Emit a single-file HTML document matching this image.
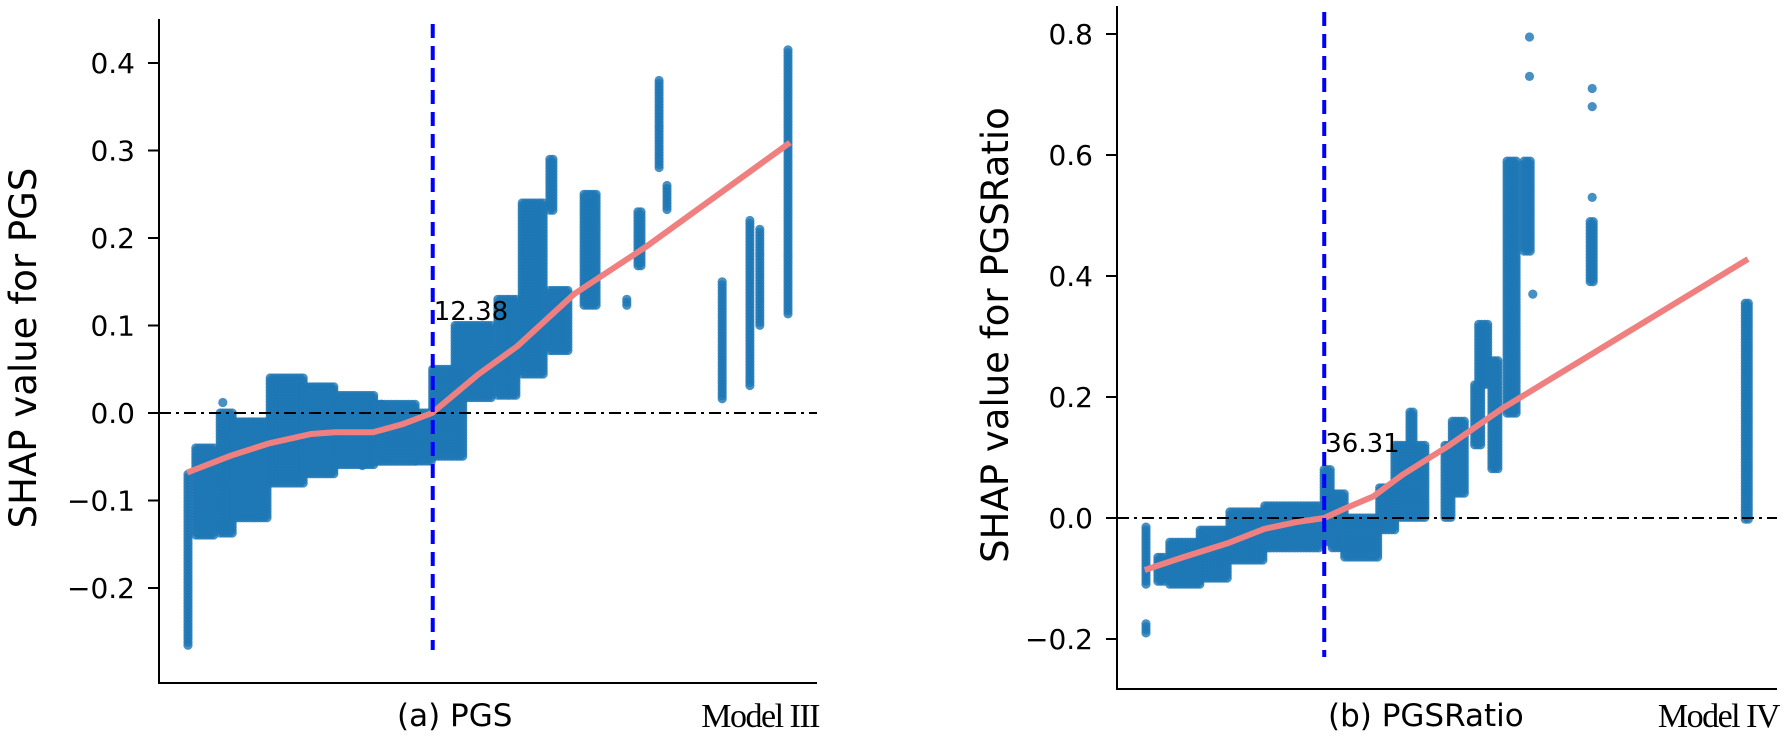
<!DOCTYPE html>
<html><head><meta charset="utf-8"><style>
html,body{margin:0;padding:0;background:#fff;}
svg{display:block;font-family:"DejaVu Sans","Liberation Sans",sans-serif;}
</style></head><body>
<svg id="chart" width="1784" height="744" viewBox="0 0 1784 744" xmlns="http://www.w3.org/2000/svg">
  <g id="panelA"></g>
  <g id="panelB"></g>
</svg>
<script>
// ---------- Panel A data (PGS, Model III) ----------
const aTicks = [0.4, 0.3, 0.2, 0.1, 0.0, -0.1, -0.2];
const aTickLabels = ["0.4", "0.3", "0.2", "0.1", "0.0", "\u22120.1", "\u22120.2"];
// bands: [xStart, xEnd, shapLow, shapHigh]
const aBandX0 = [4.4,5.6,9.3,11.4,16.9,22,26.7,33,39.1,41.6,45,51.5,55.2,59.4,59.4,64.6,71.1,72.8,76.0,77.2,85.6,89.8,91.3,95.6];
const aBandX1 = [4.8,8.5,11.4,16.6,22,26.7,33,39.1,41.6,46.4,50.8,54.4,58.7,60.2,62.5,66.7,71.1,73.4,76.0,77.2,85.6,89.8,91.3,95.6];
const aBandLo = [-0.268,-0.14,-0.14,-0.12,-0.08,-0.07,-0.06,-0.057,-0.055,-0.05,0.016,0.02,0.043,0.23,0.07,0.12,0.12,0.167,0.28,0.23,0.015,0.03,0.1,0.11];
const aBandHi = [-0.07,-0.04,0.0,-0.01,0.04,0.03,0.02,0.01,0.0,0.05,0.1,0.13,0.24,0.29,0.14,0.25,0.13,0.23,0.38,0.26,0.15,0.22,0.21,0.415];
const aSingleX = [9.7, 30.9, 33.8];
const aSingleY = [0.012, -0.06, 0.01];
const aTrendX = [4.3,10.8,16.6,23.1,26.7,32.5,36.9,41.5,45,48.5,54.4,63.1,74,95.9];
const aTrendY = [-0.068,-0.049,-0.035,-0.024,-0.022,-0.022,-0.013,0,0.022,0.044,0.076,0.136,0.19,0.309];
const aThreshold = 41.6;
const aThresholdLabel = "12.38";

// ---------- Panel B data (PGSRatio, Model IV) ----------
const bTicks = [0.8, 0.6, 0.4, 0.2, 0.0, -0.2];
const bTickLabels = ["0.8", "0.6", "0.4", "0.2", "0.0", "\u22120.2"];
const bBandX0 = [4.4,4.4,6.2,8.0,12.6,17.1,22.4,31.4,32.6,34.5,39.8,42.1,44.4,49.7,50.8,54.2,54.8,56.8,59.1,61.7,71.7,95.2];
const bBandX1 = [4.8,4.8,7.3,12.6,17.1,22.4,30.8,32.6,34.5,39.8,42.1,46.7,45.2,50.8,52.7,55.3,56.2,58.0,60.6,62.9,72.3,95.9];
const bBandLo = [-0.11,-0.19,-0.105,-0.11,-0.10,-0.07,-0.05,-0.04,-0.05,-0.065,-0.02,0.0,0.1,0.0,0.04,0.12,0.22,0.08,0.17,0.44,0.39,-0.005];
const bBandHi = [-0.015,-0.175,-0.065,-0.04,-0.02,0.01,0.02,0.08,0.04,0.0,0.05,0.12,0.175,0.12,0.16,0.22,0.32,0.26,0.59,0.59,0.49,0.355];
const bSingleX = [62.5, 62.5, 63, 72, 72, 72];
const bSingleY = [0.795, 0.73, 0.37, 0.53, 0.68, 0.71];
const bTrendX = [4.2,9.7,16.7,22.3,27.1,31.4,34.8,38.9,43.2,50.2,58.5,95.6];
const bTrendY = [-0.086,-0.066,-0.042,-0.018,-0.007,0,0.017,0.036,0.071,0.119,0.182,0.428];
const bThreshold = 31.4;
const bThresholdLabel = "36.31";

const NS = "http://www.w3.org/2000/svg";
function mk(parent, tag, attrs, text){
  const e = document.createElementNS(NS, tag);
  for (const k in attrs) e.setAttribute(k, attrs[k]);
  if (text !== undefined) e.textContent = text;
  parent.appendChild(e);
  return e;
}

function drawPanel(g, cfg){
  const sx = u => cfg.x0 + (u/100)*(cfg.x1 - cfg.x0);
  const sy = v => cfg.zeroY - v*cfg.pxPerUnit;

  const pts = mk(g, "g", {fill:"#1f77b4","fill-opacity":"0.82"});
  
  
  for (let i=0;i<cfg.bx0.length;i++){
    const px0 = sx(cfg.bx0[i]), px1 = sx(cfg.bx1[i]);
    const pyTop = sy(cfg.bhi[i]), pyBot = sy(cfg.blo[i]);
    for (let x=px0; x<=px1+0.01; x+=3){
      for (let y=pyTop; y<=pyBot+0.01; y+=3){
        mk(pts, "circle", {cx:x.toFixed(1), cy:y.toFixed(1), r:4.6});
      }
      if (pyBot-pyTop < 3) mk(pts,"circle",{cx:x.toFixed(1),cy:pyBot.toFixed(1),r:4.6});
    }
  }
  for (let i=0;i<cfg.sxs.length;i++){
    const c = mk(pts, "circle", {cx:sx(cfg.sxs[i]), cy:sy(cfg.sys[i]), r:4.6});
    
    
  }

  const zl = mk(g, "line", {x1:cfg.x0, x2:cfg.x1, y1:sy(0), y2:sy(0), stroke:"#000","stroke-width":2,"stroke-dasharray":"12,5,3,5"});
  
  

  let d = "";
  for (let i=0;i<cfg.tx.length;i++) d += (i?"L":"M") + sx(cfg.tx[i]).toFixed(1) + "," + sy(cfg.ty[i]).toFixed(1);
  const tl = mk(g, "path", {d:d, fill:"none", stroke:"#f08080","stroke-width":6,"stroke-linejoin":"round","stroke-linecap":"butt"});
  
  

  const th = mk(g, "line", {x1:sx(cfg.thr), x2:sx(cfg.thr), y1:cfg.thrTop, y2:cfg.thrBot, stroke:"#0000ff","stroke-width":4,"stroke-dasharray":"14,8"});
  
  
  const tt = mk(g, "text", {x:sx(cfg.thr)+1, y:cfg.thrLabelY, "font-size":26, fill:"#000"}, cfg.thrLabel);
  
  

  const ya = mk(g, "line", {x1:cfg.x0, x2:cfg.x0, y1:cfg.axTop, y2:cfg.axBot+1, stroke:"#000","stroke-width":2});
  
  
  const xa = mk(g, "line", {x1:cfg.x0-1, x2:cfg.x1, y1:cfg.axBot, y2:cfg.axBot, stroke:"#000","stroke-width":2});
  
  

  for (let i=0;i<cfg.ticks.length;i++){
    const y = sy(cfg.ticks[i]);
    const tk = mk(g, "line", {x1:cfg.x0-11, x2:cfg.x0, y1:y, y2:y, stroke:"#000","stroke-width":2});
    
    
    const lb = mk(g, "text", {x:cfg.x0-24, y:y+10, "font-size":28, "text-anchor":"end", fill:"#000"}, cfg.tickLabels[i]);
    
    
  }

  const yt = mk(g, "text", {x:0, y:0, "font-size":37, "text-anchor":"middle", fill:"#000", transform:"translate("+cfg.yTitleX+","+cfg.yTitleY+") rotate(-90)"}, cfg.yTitle);
  
  
  const xt = mk(g, "text", {x:cfg.xTitleX, y:726, "font-size":31, fill:"#000"}, cfg.xTitle);
  
  
  const mt = mk(g, "text", {x:cfg.x1+2, y:727, "font-size":34, "text-anchor":"end", "letter-spacing":"-1.5", fill:"#000", "font-family":"'Liberation Serif', serif"}, cfg.model);
  
  
}

drawPanel(document.getElementById("panelA"), {
  x0:159, x1:817, zeroY:413, pxPerUnit:875, axTop:19, axBot:683,
  ticks:aTicks, tickLabels:aTickLabels,
  bx0:aBandX0, bx1:aBandX1, blo:aBandLo, bhi:aBandHi,
  sxs:aSingleX, sys:aSingleY, tx:aTrendX, ty:aTrendY,
  thr:aThreshold, thrTop:24, thrBot:650, thrLabel:aThresholdLabel, thrLabelY:320,
  yTitle:"SHAP value for PGS", yTitleX:36, yTitleY:348,
  xTitle:"(a) PGS", xTitleX:397, model:"Model III"
});
drawPanel(document.getElementById("panelB"), {
  x0:1117, x1:1777, zeroY:518, pxPerUnit:605, axTop:6, axBot:689,
  ticks:bTicks, tickLabels:bTickLabels,
  bx0:bBandX0, bx1:bBandX1, blo:bBandLo, bhi:bBandHi,
  sxs:bSingleX, sys:bSingleY, tx:bTrendX, ty:bTrendY,
  thr:bThreshold, thrTop:12, thrBot:657, thrLabel:bThresholdLabel, thrLabelY:452,
  yTitle:"SHAP value for PGSRatio", yTitleX:1008, yTitleY:335,
  xTitle:"(b) PGSRatio", xTitleX:1328, model:"Model IV"
});
</script>
</body></html>
